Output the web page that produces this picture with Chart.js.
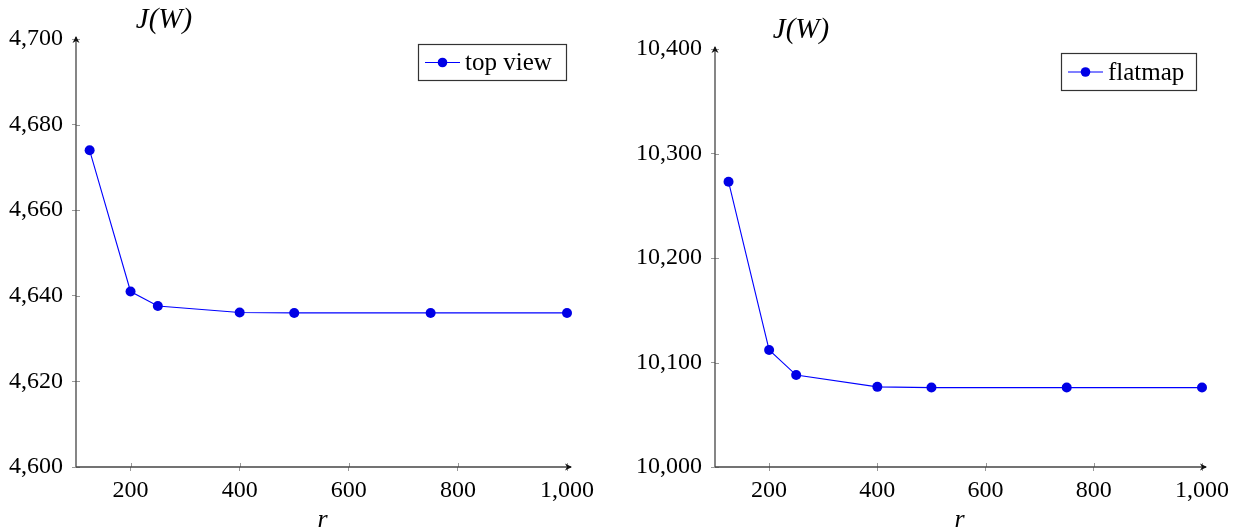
<!DOCTYPE html>
<html>
<head>
<meta charset="utf-8">
<script src="https://cdn.jsdelivr.net/npm/chart.js@4.4.1/dist/chart.umd.min.js"></script>
<style>
  html, body { margin: 0; padding: 0; background: #fff; }
  #wrap { position: relative; width: 1240px; height: 532px; }
  .pane { position: absolute; top: 0; width: 620px; height: 532px; }
</style>
</head>
<body>
<div id="wrap">
  <div class="pane" style="left:0"><canvas id="c1" width="620" height="532"></canvas></div>
  <div class="pane" style="left:620px"><canvas id="c2" width="620" height="532"></canvas></div>
</div>
<script>
// ---- data ----
const rValues = [125, 200, 250, 400, 500, 750, 1000];
const topViewValues = [4674, 4641, 4637.6, 4636.1, 4636, 4636, 4636];
const flatmapValues = [10273, 10112, 10088, 10076.7, 10076, 10076, 10076];
const xTickValues = [200, 400, 600, 800, 1000];
const leftYTickValues = [4600, 4620, 4640, 4660, 4680, 4700];
const rightYTickValues = [10000, 10100, 10200, 10300, 10400];
const leftSeriesName = 'top view';
const rightSeriesName = 'flatmap';
const yAxisTitle = 'J(W)';
const xAxisTitle = 'r';

const SERIF = '"Liberation Serif", "DejaVu Serif", serif';
const fmt = v => Number(v).toLocaleString('en-US');

function makeDecor(cfg) {
  return {
    id: 'decor',
    afterDraw(chart) {
      const ctx = chart.ctx;
      const a = chart.chartArea;
      const xs = chart.scales.x, ys = chart.scales.y;
      ctx.save();
      // inward tick stubs
      ctx.strokeStyle = '#999';
      ctx.lineWidth = 1;
      xTickValues.forEach(v => {
        const px = Math.round(xs.getPixelForValue(v)) + 0.5;
        ctx.beginPath(); ctx.moveTo(px, a.bottom); ctx.lineTo(px, a.bottom - 4); ctx.stroke();
      });
      cfg.yTicks.forEach(v => {
        const py = Math.round(ys.getPixelForValue(v)) + 0.5;
        ctx.beginPath(); ctx.moveTo(a.left, py); ctx.lineTo(a.left + 4, py); ctx.stroke();
      });
      // axis lines
      ctx.strokeStyle = '#444';
      ctx.lineWidth = 1.3;
      const x0 = a.left, y0 = a.bottom;
      const xEnd = a.right + 4, yEnd = a.top - 2;
      ctx.beginPath(); ctx.moveTo(x0, y0); ctx.lineTo(xEnd, y0); ctx.stroke();
      ctx.beginPath(); ctx.moveTo(x0, y0); ctx.lineTo(x0, yEnd); ctx.stroke();
      // arrow heads
      ctx.fillStyle = '#111';
      ctx.beginPath(); ctx.moveTo(xEnd + 1, y0); ctx.lineTo(xEnd - 6, y0 - 3.5); ctx.lineTo(xEnd - 4, y0); ctx.lineTo(xEnd - 6, y0 + 3.5); ctx.closePath(); ctx.fill();
      ctx.beginPath(); ctx.moveTo(x0, yEnd - 1); ctx.lineTo(x0 - 3.5, yEnd + 6); ctx.lineTo(x0, yEnd + 4); ctx.lineTo(x0 + 3.5, yEnd + 6); ctx.closePath(); ctx.fill();
      // axis titles
      ctx.fillStyle = '#000';
      ctx.textAlign = 'center';
      ctx.textBaseline = 'middle';
      ctx.font = 'italic 29px ' + SERIF;
      ctx.fillText(yAxisTitle, cfg.yTitleX, cfg.yTitleY);
      ctx.font = 'italic 26px ' + SERIF;
      ctx.fillText(xAxisTitle, (a.left + a.right) / 2 + 1, 520);
      // legend
      const L = cfg.legend;
      ctx.fillStyle = '#fff';
      ctx.fillRect(L.x, L.y, L.w, L.h);
      ctx.strokeStyle = '#333';
      ctx.lineWidth = 1.2;
      ctx.strokeRect(L.x + 0.5, L.y + 0.5, L.w, L.h);
      const cy = L.y + L.h / 2 + 0.5;
      ctx.strokeStyle = '#0000ff';
      ctx.lineWidth = 1.2;
      ctx.beginPath(); ctx.moveTo(L.x + 7, cy); ctx.lineTo(L.x + 42, cy); ctx.stroke();
      ctx.fillStyle = '#0000e6';
      ctx.beginPath(); ctx.arc(L.x + 24.5, cy, 4.8, 0, Math.PI * 2); ctx.fill();
      ctx.fillStyle = '#000';
      ctx.textAlign = 'left';
      ctx.textBaseline = 'middle';
      ctx.font = '25px ' + SERIF;
      ctx.fillText(chart.data.datasets[0].label, L.x + 47, cy + 1);
      ctx.restore();
    }
  };
}

function makeChart(id, values, label, yMin, yMax, yTicks, layout) {
  return new Chart(document.getElementById(id), {
    type: 'line',
    data: {
      datasets: [{
        label: label,
        data: rValues.map((r, i) => ({ x: r, y: values[i] })),
        borderColor: '#0000ff',
        borderWidth: 1.1,
        pointRadius: 5,
        pointBackgroundColor: '#0000e6',
        pointBorderColor: '#0000e6',
        pointBorderWidth: 0,
        tension: 0,
        clip: false,
        fill: false
      }]
    },
    options: {
      responsive: false,
      animation: false,
      events: [],
      layout: { padding: { left: 0, top: layout.top, right: layout.right, bottom: 0 } },
      plugins: { legend: { display: false }, tooltip: { enabled: false }, title: { display: false } },
      scales: {
        x: {
          type: 'linear', min: 100, max: 1000,
          afterBuildTicks: s => { s.ticks = xTickValues.map(v => ({ value: v })); },
          afterFit: s => { s.height = 532 - layout.bottom; },
          grid: { display: true, drawOnChartArea: false, drawTicks: true, tickLength: 4, color: '#999', lineWidth: 1 },
          border: { display: false },
          ticks: { color: '#000', font: { family: SERIF, size: 24 }, padding: 5, maxRotation: 0, autoSkip: false, callback: v => fmt(v) }
        },
        y: {
          type: 'linear', min: yMin, max: yMax,
          afterBuildTicks: s => { s.ticks = yTicks.map(v => ({ value: v })); },
          afterFit: s => { s.width = layout.left; },
          grid: { display: true, drawOnChartArea: false, drawTicks: true, tickLength: 4, color: '#999', lineWidth: 1 },
          border: { display: false },
          ticks: { color: '#000', font: { family: SERIF, size: 24 }, padding: 9, autoSkip: false, callback: v => fmt(v) }
        }
      }
    },
    plugins: [makeDecor(layout.decor)]
  });
}

makeChart('c1', topViewValues, leftSeriesName, 4600, 4700, leftYTickValues,
  { left: 76, top: 39, right: 53, bottom: 467,
    decor: { yTicks: leftYTickValues, yTitleX: 164, yTitleY: 20,
             legend: { x: 418, y: 44, w: 148, h: 36 } } });

makeChart('c2', flatmapValues, rightSeriesName, 10000, 10400, rightYTickValues,
  { left: 95, top: 49, right: 38, bottom: 467,
    decor: { yTicks: rightYTickValues, yTitleX: 181, yTitleY: 30,
             legend: { x: 441, y: 53, w: 135, h: 37 } } });
</script>
</body>
</html>
